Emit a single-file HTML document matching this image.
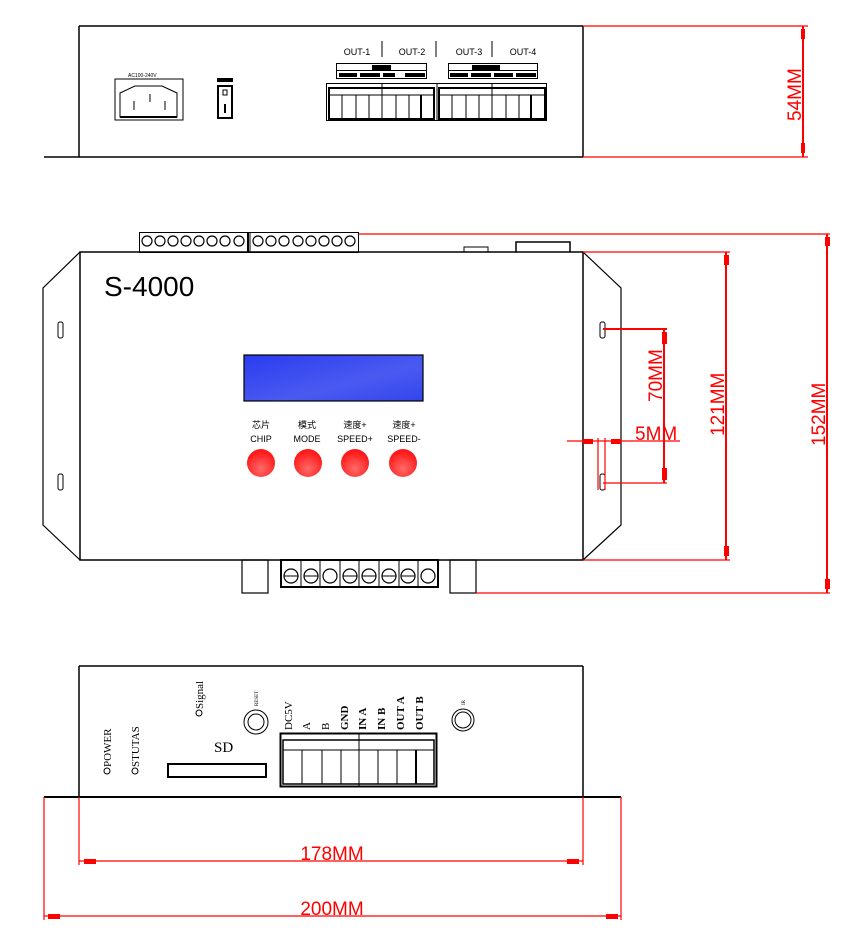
<!DOCTYPE html>
<html><head><meta charset="utf-8"><style>
html,body{margin:0;padding:0;background:#fff;}
svg{display:block;}
.dim{font-family:"Liberation Sans",sans-serif;font-size:19px;fill:#f00;}
.sm{font-family:"Liberation Serif","Noto Serif CJK SC",serif;fill:#000;}
</style></head><body>
<svg width="860" height="943" viewBox="0 0 860 943" xmlns="http://www.w3.org/2000/svg">
<defs>
<radialGradient id="btn" cx="0.5" cy="0.7" r="0.6"><stop offset="0" stop-color="#ff6a6a"/><stop offset="1" stop-color="#ff1a1a"/></radialGradient>
<linearGradient id="lcd" x1="0" y1="0" x2="1" y2="1"><stop offset="0" stop-color="#2a3cf0"/><stop offset="0.6" stop-color="#4a5af0"/><stop offset="1" stop-color="#3445ee"/></linearGradient>
</defs>

<!-- ============ TOP VIEW ============ -->
<g stroke="#000" fill="none" stroke-width="1.5">
<line x1="79" y1="26" x2="583" y2="26"/>
<line x1="79" y1="26" x2="79" y2="157"/>
<line x1="583" y1="26" x2="583" y2="157"/>
<line x1="44" y1="157" x2="583" y2="157"/>
<!-- inlet -->
<rect x="115" y="79" width="68" height="41" stroke-width="1"/>
<path d="M120 117 L120 93 L135 86 L162 86 L177 93 L177 117 Z" stroke-width="1"/>
<line x1="120" y1="117" x2="177" y2="117" stroke-width="2"/>
<line x1="134" y1="101" x2="134" y2="110" stroke-width="1"/>
<line x1="150" y1="94" x2="150" y2="102" stroke-width="1"/>
<line x1="165" y1="101" x2="165" y2="110" stroke-width="1"/>
</g>
<text x="128" y="77" font-family="Liberation Sans,sans-serif" font-size="5">AC100-240V</text>
<!-- switch -->
<rect x="217" y="78" width="16" height="4" fill="#000"/>
<rect x="218" y="86" width="14" height="32" fill="none" stroke="#000" stroke-width="2"/>
<rect x="223" y="90" width="4" height="5" fill="none" stroke="#000" stroke-width="1"/>
<line x1="225" y1="104" x2="225" y2="113" stroke="#000" stroke-width="2"/>
<!-- OUT labels -->
<g font-family="Liberation Sans,sans-serif" font-size="9" fill="#000" text-anchor="middle">
<text x="357" y="55">OUT-1</text><text x="412" y="55">OUT-2</text><text x="469" y="55">OUT-3</text><text x="523" y="55">OUT-4</text>
</g>
<g stroke="#000" stroke-width="1">
<line x1="382" y1="41" x2="382" y2="57"/><line x1="436" y1="41" x2="436" y2="57"/><line x1="492" y1="41" x2="492" y2="57"/>
</g>
<!-- header blocks -->
<g stroke="#000" stroke-width="1" fill="none">
<rect x="336.5" y="63.5" width="90" height="15"/><line x1="336" y1="70.5" x2="427" y2="70.5"/>
<rect x="448.5" y="63.5" width="89" height="15"/><line x1="448" y1="70.5" x2="538" y2="70.5"/>
</g>
<g fill="#000">
<rect x="372" y="65" width="19" height="5"/><rect x="472" y="65" width="28" height="5"/>
<rect x="339" y="73" width="18" height="4"/><rect x="360" y="73" width="20" height="4"/><rect x="383" y="73" width="12" height="4"/><rect x="405" y="73" width="20" height="4"/>
<rect x="450" y="73" width="18" height="4"/><rect x="471" y="73" width="20" height="4"/><rect x="494" y="73" width="19" height="4"/><rect x="516" y="73" width="20" height="4"/>
</g>
<!-- terminal blocks -->
<g stroke="#000" fill="none" stroke-width="1">
<rect x="326.5" y="83.5" width="220" height="37"/>
<line x1="437" y1="83" x2="437" y2="121"/>
<line x1="382" y1="83" x2="382" y2="121"/><line x1="492" y1="83" x2="492" y2="121"/>
<rect x="329" y="88" width="105" height="31" stroke-width="2"/>
<rect x="439" y="88" width="106" height="31" stroke-width="2"/>
<line x1="329" y1="95" x2="434" y2="95"/><line x1="439" y1="95" x2="545" y2="95"/>
<line x1="342" y1="95" x2="342" y2="119"/><line x1="356" y1="95" x2="356" y2="119"/><line x1="369" y1="95" x2="369" y2="119"/>
<line x1="396" y1="95" x2="396" y2="119"/><line x1="409" y1="95" x2="409" y2="119"/><line x1="421" y1="95" x2="421" y2="119" stroke-width="2"/>
<line x1="452" y1="95" x2="452" y2="119"/><line x1="466" y1="95" x2="466" y2="119"/><line x1="479" y1="95" x2="479" y2="119"/>
<line x1="506" y1="95" x2="506" y2="119"/><line x1="519" y1="95" x2="519" y2="119"/><line x1="531" y1="95" x2="531" y2="119" stroke-width="2"/>
</g>
<!-- 54MM -->
<g stroke="#f00" stroke-width="1.2">
<line x1="583" y1="26" x2="808" y2="26"/><line x1="583" y1="157" x2="808" y2="157"/>
<line x1="803" y1="26" x2="803" y2="157" stroke-width="2"/>
</g>
<rect x="801" y="29" width="4" height="10" fill="#f00"/><rect x="801" y="143" width="4" height="10" fill="#f00"/>
<text class="dim" transform="translate(801,121) rotate(-90)">54MM</text>

<!-- ============ FRONT VIEW ============ -->
<!-- top terminals -->
<g stroke="#000" fill="none" stroke-width="1">
<rect x="139.5" y="232.5" width="219" height="20"/>
<line x1="248" y1="232" x2="248" y2="252" stroke-width="2"/>
<line x1="250" y1="232" x2="250" y2="252"/>
</g>
<g stroke="#000" fill="none" stroke-width="1.2">
<circle cx="147" cy="241" r="5"/><circle cx="160" cy="241" r="5"/><circle cx="173" cy="241" r="5"/><circle cx="186" cy="241" r="5"/><circle cx="199" cy="241" r="5"/><circle cx="212" cy="241" r="5"/><circle cx="225" cy="241" r="5"/><circle cx="239" cy="241" r="5"/>
<circle cx="258" cy="241" r="5"/><circle cx="271" cy="241" r="5"/><circle cx="284" cy="241" r="5"/><circle cx="298" cy="241" r="5"/><circle cx="311" cy="241" r="5"/><circle cx="324" cy="241" r="5"/><circle cx="337" cy="241" r="5"/><circle cx="350" cy="241" r="5"/>
</g>
<g stroke="#000" fill="none" stroke-width="1.5">
<rect x="464" y="247" width="24" height="5" stroke-width="1"/>
<path d="M516 252 V242 H570 V252"/>
<!-- main body -->
<rect x="80" y="252" width="503" height="308"/>
<path d="M80 252 L43 288 L43 525 L80 560" stroke-width="1.2"/>
<path d="M583 252 L621 288 L621 525 L583 560" stroke-width="1.2"/>
<rect x="58" y="322" width="5" height="16" rx="2" stroke-width="1"/>
<rect x="58" y="474" width="5" height="16" rx="2" stroke-width="1"/>
<rect x="600" y="322" width="5" height="16" rx="2" stroke-width="1"/>
<rect x="600" y="474" width="5" height="16" rx="2" stroke-width="1"/>
</g>
<text x="104" y="296" font-family="Liberation Sans,sans-serif" font-size="28" fill="#000">S-4000</text>
<rect x="244" y="355" width="179" height="46" fill="url(#lcd)" stroke="#000" stroke-width="1.2"/>
<g font-family="Liberation Sans,'Noto Sans CJK SC',sans-serif" font-size="9" fill="#000" text-anchor="middle">
<text x="261" y="428">芯片</text><text x="307" y="428">模式</text><text x="355" y="428">速度+</text><text x="404" y="428">速度+</text>
<text x="261" y="442">CHIP</text><text x="307" y="442">MODE</text><text x="355" y="442">SPEED+</text><text x="404" y="442">SPEED-</text>
</g>
<g fill="url(#btn)">
<circle cx="261" cy="463" r="14"/><circle cx="308" cy="463" r="14"/><circle cx="355" cy="463" r="14"/><circle cx="403" cy="463" r="14"/>
</g>
<!-- bottom parts -->
<g stroke="#000" fill="none" stroke-width="1.2">
<rect x="242" y="560" width="26" height="33"/>
<rect x="450" y="560" width="26" height="33"/>
<rect x="281" y="560" width="157" height="27" stroke-width="2"/>
<line x1="301" y1="560" x2="301" y2="587" stroke-width="1"/><line x1="320" y1="560" x2="320" y2="587" stroke-width="1"/><line x1="340" y1="560" x2="340" y2="587" stroke-width="1"/><line x1="359" y1="560" x2="359" y2="587" stroke-width="1"/><line x1="379" y1="560" x2="379" y2="587" stroke-width="1"/><line x1="399" y1="560" x2="399" y2="587" stroke-width="1"/><line x1="418" y1="560" x2="418" y2="587" stroke-width="1"/>
<circle cx="291" cy="576" r="7"/><circle cx="311" cy="576" r="7"/><circle cx="330" cy="576" r="7"/><circle cx="350" cy="576" r="7"/><circle cx="369" cy="576" r="7"/><circle cx="389" cy="576" r="7"/><circle cx="408" cy="576" r="7"/><circle cx="428" cy="576" r="7"/>
<line x1="284" y1="576" x2="298" y2="576" stroke-width="1"/><line x1="304" y1="576" x2="318" y2="576" stroke-width="1"/><line x1="343" y1="576" x2="357" y2="576" stroke-width="1"/><line x1="362" y1="576" x2="376" y2="576" stroke-width="1"/><line x1="382" y1="576" x2="396" y2="576" stroke-width="1"/><line x1="401" y1="576" x2="415" y2="576" stroke-width="1"/>
</g>
<!-- front dims -->
<g stroke="#f00" stroke-width="1.2" fill="none">
<line x1="359" y1="234" x2="830" y2="234"/>
<line x1="583" y1="252" x2="730" y2="252"/>
<line x1="583" y1="560" x2="730" y2="560"/>
<line x1="476" y1="593" x2="830" y2="593"/>
<line x1="726" y1="252" x2="726" y2="560" stroke-width="2"/>
<line x1="827" y1="234" x2="827" y2="593" stroke-width="2"/>
<line x1="603" y1="329" x2="667" y2="329" stroke-width="2"/>
<line x1="603" y1="483" x2="667" y2="483"/>
<line x1="664" y1="329" x2="664" y2="483" stroke-width="2"/>
<line x1="567" y1="441" x2="680" y2="441"/>
<line x1="598" y1="438" x2="598" y2="490"/>
<line x1="605" y1="438" x2="605" y2="490"/>
</g>
<g fill="#f00">
<rect x="724" y="255" width="5" height="10"/><rect x="724" y="546" width="5" height="10"/>
<rect x="825" y="237" width="5" height="9"/><rect x="825" y="579" width="5" height="10"/>
<rect x="662" y="332" width="5" height="12"/><rect x="662" y="468" width="5" height="12"/>
<rect x="583" y="439" width="10" height="5"/><rect x="611" y="439" width="10" height="5"/>
</g>
<text class="dim" transform="translate(662,402) rotate(-90)">70MM</text>
<text class="dim" transform="translate(724,436) rotate(-90)">121MM</text>
<text class="dim" transform="translate(825,446) rotate(-90)">152MM</text>
<text class="dim" x="635" y="440">5MM</text>

<!-- ============ REAR VIEW ============ -->
<g stroke="#000" fill="none" stroke-width="1.5">
<line x1="79" y1="666" x2="583" y2="666"/>
<line x1="79" y1="666" x2="79" y2="797"/>
<line x1="583" y1="666" x2="583" y2="797"/>
<line x1="44" y1="797" x2="621" y2="797" stroke-width="2"/>
</g>
<g stroke="#000" fill="none" stroke-width="1">
<circle cx="107" cy="771" r="3"/><circle cx="135" cy="771" r="3"/><circle cx="199" cy="713" r="3"/>
<circle cx="256" cy="722" r="12"/><circle cx="256" cy="722" r="8"/>
<circle cx="463" cy="720" r="11"/><circle cx="463" cy="720" r="8"/>
<rect x="168" y="764" width="98" height="13" stroke-width="2"/>
<rect x="280.5" y="733.5" width="156" height="53" stroke-width="2"/>
<rect x="283" y="740" width="151" height="44" stroke-width="1.5"/>
<line x1="283" y1="750" x2="434" y2="750"/>
<line x1="359" y1="733" x2="359" y2="787"/>
<line x1="302" y1="750" x2="302" y2="784"/><line x1="322" y1="750" x2="322" y2="784"/><line x1="341" y1="750" x2="341" y2="784"/><line x1="378" y1="750" x2="378" y2="784"/><line x1="397" y1="750" x2="397" y2="784"/><line x1="416" y1="750" x2="416" y2="784" stroke-width="2"/>
</g>
<g class="sm" font-size="11">
<text transform="translate(111,767) rotate(-90)">POWER</text>
<text transform="translate(139,767) rotate(-90)">STUTAS</text>
<text transform="translate(203,709) rotate(-90)">Signal</text>
<text transform="translate(258,706) rotate(-90)" font-size="5">RESET</text>
<text transform="translate(465,705) rotate(-90)" font-size="5">IR</text>
<text transform="translate(292,730) rotate(-90)">DC5V</text>
<text transform="translate(310,730) rotate(-90)">A</text>
<text transform="translate(329,730) rotate(-90)">B</text>
<text transform="translate(348,730) rotate(-90)" font-weight="bold">GND</text>
<text transform="translate(366,730) rotate(-90)" font-weight="bold">IN A</text>
<text transform="translate(385,730) rotate(-90)" font-weight="bold">IN B</text>
<text transform="translate(404,730) rotate(-90)" font-weight="bold">OUT A</text>
<text transform="translate(423,730) rotate(-90)" font-weight="bold">OUT B</text>
</g>
<text x="214" y="752" font-family="Liberation Serif,serif" font-size="15" fill="#000">SD</text>
<!-- rear dims -->
<g stroke="#f00" stroke-width="1.2" fill="none">
<line x1="79" y1="797" x2="79" y2="865"/><line x1="583" y1="797" x2="583" y2="865"/>
<line x1="79" y1="861" x2="583" y2="861"/>
<line x1="44" y1="797" x2="44" y2="920"/><line x1="621" y1="797" x2="621" y2="920"/>
<line x1="44" y1="916" x2="621" y2="916"/>
</g>
<g fill="#f00">
<rect x="84" y="859" width="12" height="5"/><rect x="567" y="859" width="12" height="5"/>
<rect x="48" y="914" width="12" height="5"/><rect x="606" y="914" width="12" height="5"/>
</g>
<text class="dim" x="332" y="860" text-anchor="middle">178MM</text>
<text class="dim" x="332" y="915" text-anchor="middle">200MM</text>
</svg>
</body></html>
